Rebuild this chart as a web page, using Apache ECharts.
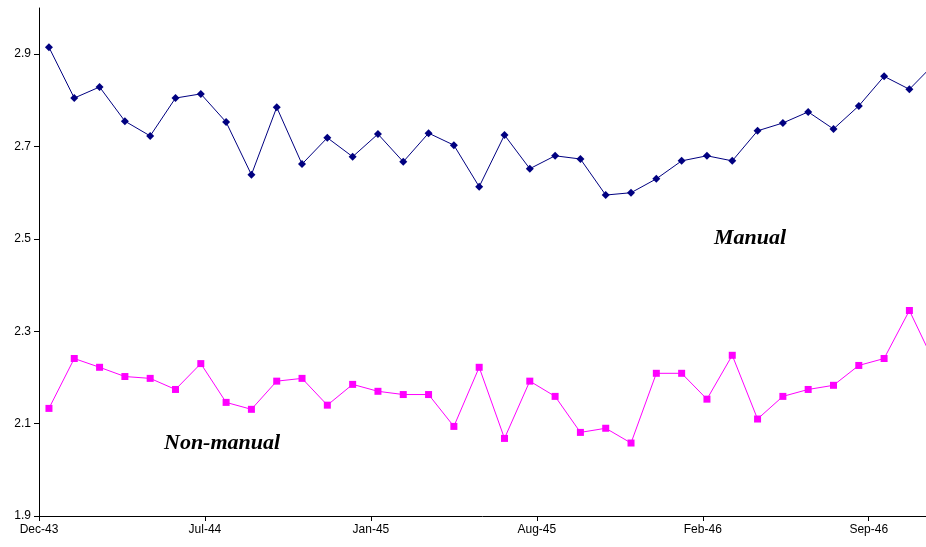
<!DOCTYPE html>
<html><head><meta charset="utf-8">
<script src="https://cdn.jsdelivr.net/npm/echarts@6/dist/echarts.min.js"></script>
<style>html,body{margin:0;background:#fff}#c{width:926px;height:547px}</style>
</head><body><div id="c"></div>
<script>
// x in days from the Dec-43 axis origin; points are monthly
var tickLabels = ['Dec-43', 'Jul-44', 'Jan-45', 'Aug-45', 'Feb-46', 'Sep-46'];
var manual = [2.915, 2.805, 2.829, 2.755, 2.723, 2.805, 2.814, 2.753, 2.639, 2.785, 2.662, 2.719,
  2.678, 2.727, 2.667, 2.729, 2.703, 2.613, 2.725, 2.652, 2.68, 2.673, 2.595, 2.6, 2.63, 2.669,
  2.68, 2.669, 2.734, 2.751, 2.775, 2.738, 2.788, 2.852, 2.824, 2.88];
var nonManual = [2.133, 2.241, 2.222, 2.202, 2.198, 2.174, 2.23, 2.146, 2.131, 2.192, 2.198, 2.14,
  2.185, 2.17, 2.163, 2.163, 2.094, 2.222, 2.068, 2.192, 2.159, 2.081, 2.09, 2.058, 2.209, 2.209,
  2.153, 2.248, 2.11, 2.159, 2.174, 2.183, 2.226, 2.241, 2.345, 2.23];
var firstDay = 12, stepDays = 30.5;

function pairs(arr) {
  return arr.map(function (v, i) { return [firstDay + i * stepDays, v]; });
}

var chart = echarts.init(document.getElementById('c'));
chart.setOption({
  animation: false,
  grid: { left: 39, right: 0, top: 8, bottom: 31 },
  xAxis: {
    type: 'value', min: 0, max: 1069, interval: 200,
    splitLine: { show: false },
    axisLine: { lineStyle: { color: '#000' } },
    axisTick: { show: true, inside: false, length: 5, lineStyle: { color: '#000' } },
    axisLabel: {
      color: '#000', fontFamily: 'Liberation Sans', fontSize: 12, showMaxLabel: false,
      formatter: function (v) { return tickLabels[Math.round(v / 200)] || ''; }
    }
  },
  yAxis: {
    type: 'value', min: 1.9, max: 3.0,
    splitLine: { show: false },
    axisLine: { show: true, lineStyle: { color: '#000' } },
    axisTick: { show: true, length: 5, customValues: [1.9, 2.1, 2.3, 2.5, 2.7, 2.9], lineStyle: { color: '#000' } },
    axisLabel: {
      color: '#000', fontFamily: 'Liberation Sans', fontSize: 12,
      customValues: [1.9, 2.1, 2.3, 2.5, 2.7, 2.9],
      formatter: function (v) { return v.toFixed(1); }
    }
  },
  series: [
    { name: 'Manual', type: 'line', data: pairs(manual), symbol: 'diamond', symbolSize: 8,
      clip: true, lineStyle: { color: '#000080', width: 1 }, itemStyle: { color: '#000080' } },
    { name: 'Non-manual', type: 'line', data: pairs(nonManual), symbol: 'rect', symbolSize: 7,
      clip: true, lineStyle: { color: '#ff00ff', width: 1 }, itemStyle: { color: '#ff00ff' } }
  ],
  graphic: [
    { type: 'text', left: 714, top: 227, style: { text: 'Manual', font: 'italic bold 22px "Liberation Serif"', fill: '#000' } },
    { type: 'text', left: 164, top: 432, style: { text: 'Non-manual', font: 'italic bold 22px "Liberation Serif"', fill: '#000' } }
  ]
});
</script></body></html>
